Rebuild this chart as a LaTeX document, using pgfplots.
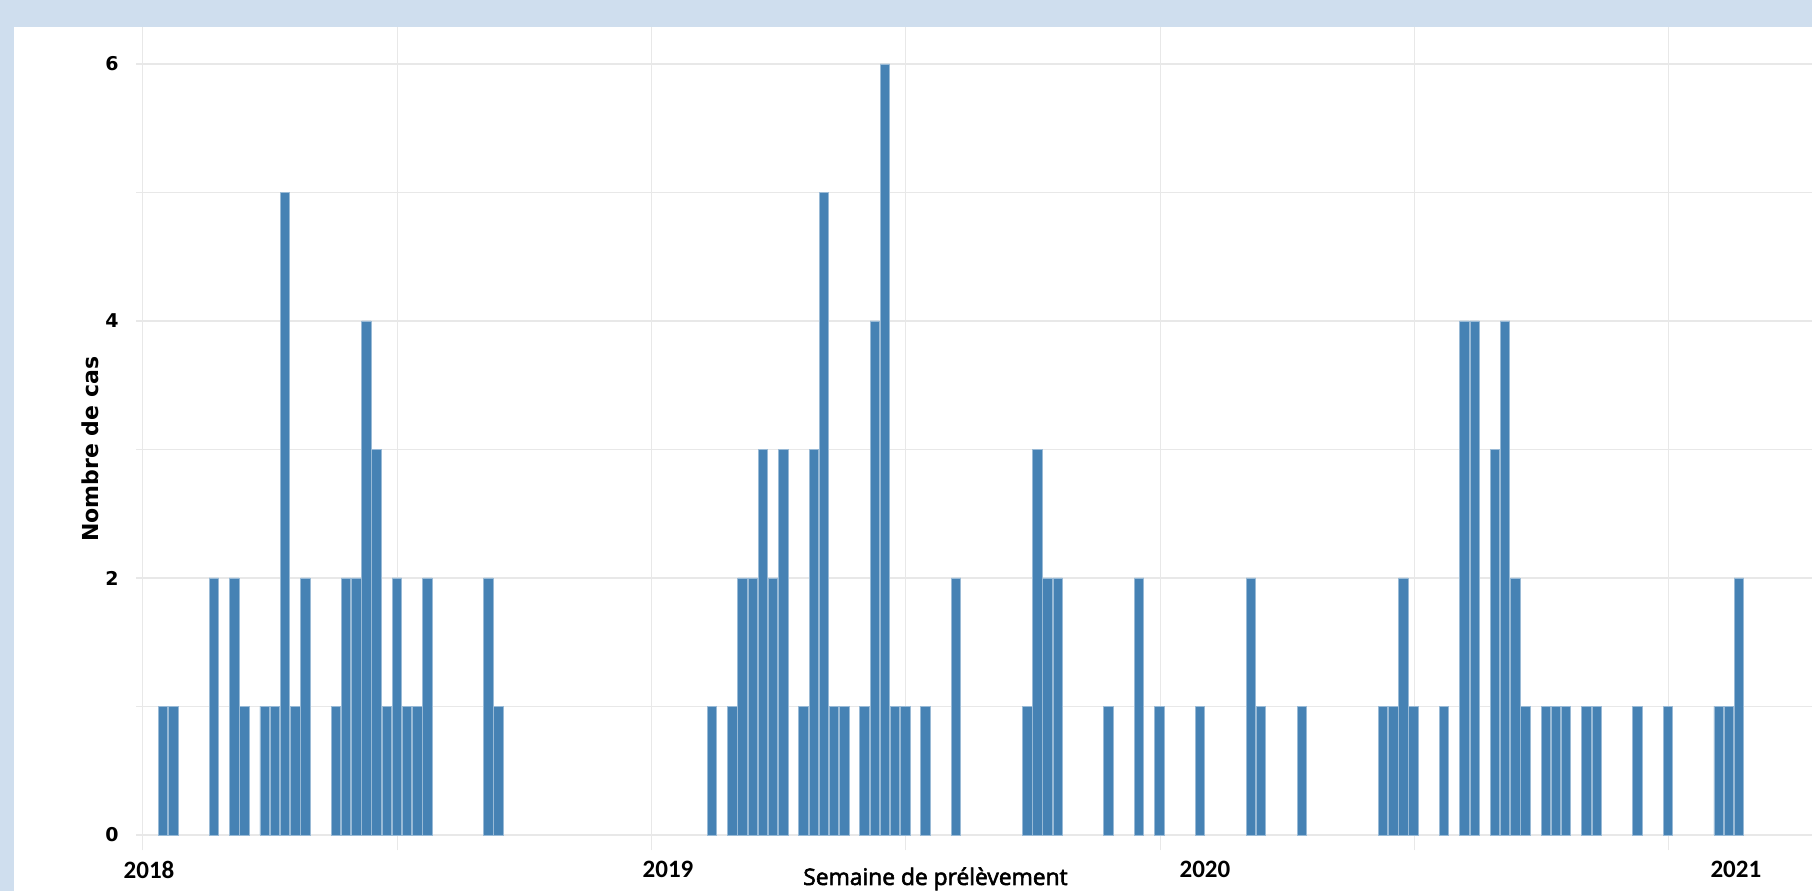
\documentclass[border=0pt]{standalone}
\usepackage{pgfplots}
\pgfplotsset{compat=1.18}
\usepackage{pgfplotstable}
\usepackage{fontspec}
\setmainfont{DejaVu Sans}
\newfontfamily\tickfont{Carlito}
\newfontfamily\labfont{Open Sans}[FakeBold=2.5]

\definecolor{barblue}{RGB}{70,130,180}
\definecolor{framebg}{RGB}{207,222,238}
\definecolor{gridgray}{RGB}{232,232,232}

% week index (0 = first week of 2018), number of cases
\pgfplotstableread{
week cases
2 1
3 1
7 2
9 2
10 1
12 1
13 1
14 5
15 1
16 2
19 1
20 2
21 2
22 4
23 3
24 1
25 2
26 1
27 1
28 2
34 2
35 1
56 1
58 1
59 2
60 2
61 3
62 2
63 3
65 1
66 3
67 5
68 1
69 1
71 1
72 4
73 6
74 1
75 1
77 1
80 2
87 1
88 3
89 2
90 2
95 1
98 2
100 1
104 1
109 2
110 1
114 1
122 1
123 1
124 2
125 1
128 1
130 4
131 4
133 3
134 4
135 2
136 1
138 1
139 1
140 1
142 1
143 1
147 1
150 1
155 1
156 1
157 2
}\cases

\begin{document}
\begin{tikzpicture}
\useasboundingbox (0,0) rectangle (906bp,445.5bp);
\clip (0,0) rectangle (906bp,445.5bp);
\fill[framebg] (0,0) rectangle (906bp,445.5bp);
\fill[white] (7bp,0) rectangle (906bp,432bp);
\begin{axis}[
    at={(68bp,20.5bp)}, anchor=south west,
    scale only axis,
    width=838bp, height=411.5bp,
    xmin=-0.66, xmax=164.19,
    ymin=-0.117, ymax=6.288,
    axis line style={draw=none},
    major tick length=0pt,
    /pgf/number format/assume math mode=true,
    xtick={0,25.05,50.06,75.05,100.1,125.07,150.05},
    xticklabels={},
    extra x ticks={0.62,51.67,104.48,156.7},
    extra x tick labels={2018,2019,2020,2021},
    extra x tick style={grid=none,
        xticklabel style={font=\tickfont\bfseries\fontsize{12.5bp}{15bp}\selectfont,
            anchor=north, inner sep=0pt, yshift=-5.5bp}},
    ytick={0,1,2,3,4,5,6},
    yticklabels={0,,2,,4,,6},
    yticklabel style={font=\bfseries\fontsize{9.5bp}{11bp}\selectfont,
        anchor=east, inner sep=0pt, xshift=-8.5bp},
    grid=major,
    grid style={gridgray, line width=0.75bp},
    xlabel={Semaine de prélèvement},
    xlabel style={at={(axis description cs:0.477,-0.0352)}, anchor=center,
        font=\labfont\fontsize{11.4bp}{13bp}\selectfont},
    ylabel={Nombre de cas},
    ylabel style={at={(axis description cs:-0.0274,0.487)}, anchor=center,
        font=\bfseries\fontsize{11bp}{13bp}\selectfont},
]
\addplot[ybar, bar width=0.93, bar shift=0pt, fill=barblue,
    draw=barblue!55!white, line width=0.35bp]
    table[x=week, y=cases] {\cases};
\end{axis}
\end{tikzpicture}
\end{document}
